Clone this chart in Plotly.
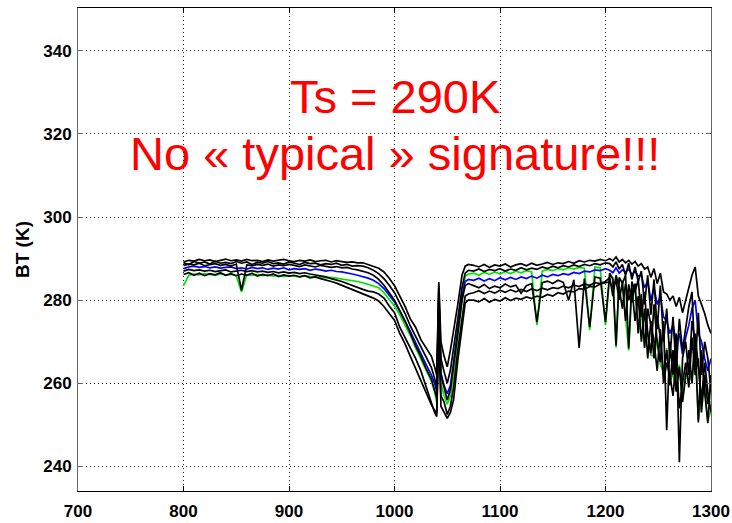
import numpy as np
import plotly.graph_objects as go

# wavenumber grid (cm-1)
wn = np.concatenate([
    np.arange(800, 966, 5),
    np.array([970, 975, 980, 985, 990, 995, 1000, 1005, 1010, 1015, 1020, 1025, 1030,
              1035, 1038, 1040, 1042, 1044, 1047, 1050, 1053, 1056, 1060, 1064, 1067, 1070]),
    np.arange(1075, 1201, 5),
    np.arange(1204, 1301, 3),
])

bt_black_hi = [
    289.2, 289.6, 289.4, 289.8, 289.5, 289.7, 289.3, 289.6, 289.9, 289.5, 289.7, 289.4, 289.8, 289.5, 289.6, 289.3, 289.7,
    289.4, 289.6, 289.8, 289.5, 289.3, 289.6, 289.4, 289.7, 289.3, 289.5, 289.6, 289.2, 289.5, 289.3, 289.1, 289.2, 289.0,
    289.0, 288.6, 288.2, 287.7, 286.8, 285.3, 283.5, 281.0, 278.5, 275.5, 273.5, 270.5, 268.5,
    266.5, 264.0, 262.0, 284.4, 270.0, 266.5, 264.0, 268.0, 272.5, 279.0, 286.0, 288.2, 288.6,
    288.4, 288.0, 288.6, 287.9, 288.5, 288.2, 288.7, 288.0, 288.5, 288.8, 288.3, 288.9, 288.4,
    288.7, 289.1, 288.6, 289.0, 288.8, 289.3, 288.9, 289.5, 289.2, 289.6, 289.4, 289.8, 289.5,
    290.0, 289.5, 290.4, 289.2, 289.8, 289.0, 289.6, 288.7, 289.3, 288.2, 288.8, 287.5, 288.0,
    285.5, 287.6, 284.0, 286.5, 282.0, 281.5, 280.0, 281.0, 278.5, 280.7, 277.0, 280.0, 283.0,
    286.0, 288.0, 281.0, 279.0, 276.8, 274.0, 272.0,
]

bt_black_a = [
    289.0, 288.6, 289.3, 288.9, 289.2, 288.7, 289.4, 288.9, 289.1, 288.8, 289.3, 288.9, 289.2, 288.6, 289.1, 288.9, 289.3,
    288.8, 289.0, 288.7, 289.2, 288.9, 288.6, 289.1, 288.8, 288.9, 288.5, 288.8, 288.6, 288.9, 288.4, 288.6, 288.2, 288.3,
    288.2, 287.8, 287.2, 286.4, 285.2, 283.6, 281.8, 279.3, 276.8, 273.8, 271.2, 268.8, 266.0,
    263.8, 261.2, 259.0, 283.5, 266.0, 262.8, 260.0, 263.2, 268.0, 275.5, 283.0, 286.5, 287.2,
    287.0, 287.5, 286.9, 287.4, 287.1, 287.6, 287.0, 287.5, 287.2, 287.8, 287.3, 287.7, 287.4,
    288.0, 287.6, 288.2, 287.8, 288.3, 288.0, 288.5, 288.1, 288.6, 288.3, 288.8, 288.5, 289.0,
    288.8, 288.0, 289.2, 287.5, 288.6, 286.0, 288.9, 285.0, 288.0, 284.5, 287.0, 279.0, 286.0,
    276.5, 285.0, 273.0, 283.5, 270.0, 278.0, 266.0, 276.0, 263.0, 275.5, 268.0, 273.0, 278.5,
    282.0, 264.0, 277.0, 262.0, 270.0, 266.0, 258.0,
]

bt_black_mid = [
    288.4, 288.7, 288.5, 288.9, 288.3, 288.6, 288.8, 288.4, 288.6, 288.2, 288.7, 282.4, 288.5, 288.3, 288.6, 288.4, 288.7,
    288.2, 288.5, 288.3, 288.6, 288.4, 288.1, 288.5, 288.3, 288.0, 288.4, 288.2, 287.9, 288.1, 287.8, 287.9, 287.5, 287.3,
    287.0, 286.6, 286.0, 285.0, 283.6, 281.8, 280.0, 277.5, 275.0, 272.0, 269.0, 266.5, 263.5,
    261.0, 258.5, 256.5, 282.0, 262.0, 259.0, 256.0, 258.5, 264.0, 272.0, 280.0, 283.5, 284.0,
    283.5, 283.0, 283.8, 282.8, 283.4, 283.0, 283.9, 283.2, 283.6, 281.7, 283.5, 284.0, 274.7,
    284.2, 284.6, 284.0, 284.8, 284.3, 280.0, 284.9, 268.5, 285.2, 273.5, 285.6, 285.3, 274.7,
    286.5, 285.0, 269.1, 285.5, 284.0, 286.0, 268.4, 284.5, 282.0, 285.0, 276.0, 282.0, 272.0,
    267.2, 279.0, 270.0, 265.1, 275.0, 248.7, 270.0, 262.0, 272.0, 241.0, 266.0, 270.0, 262.0,
    275.0, 270.0, 250.6, 268.0, 258.0, 250.4, 262.0,
]

bt_black_b = [
    286.2, 286.6, 286.0, 286.5, 285.9, 286.4, 286.1, 286.6, 286.0, 286.4, 285.9, 286.3, 286.0, 286.5, 285.8, 286.2, 285.9,
    286.3, 285.7, 286.1, 285.8, 286.0, 285.6, 285.9, 285.4, 285.6, 285.2, 284.9, 284.5, 284.1, 283.6, 283.1, 282.6, 282.0,
    281.6, 281.0, 280.5, 279.8, 278.5, 276.8, 275.2, 272.0, 269.5, 266.5, 263.5, 260.8, 257.5,
    254.8, 253.5, 252.8, 270.0, 257.0, 255.5, 252.5, 254.5, 259.0, 268.0, 276.0, 281.0, 281.5,
    281.8, 282.3, 281.6, 282.2, 281.7, 282.4, 281.9, 282.5, 282.0, 282.6, 282.1, 282.7, 282.3,
    282.9, 282.5, 283.0, 282.8, 283.4, 283.0, 283.6, 283.3, 283.9, 283.6, 284.2, 284.0, 284.5,
    285.5, 281.0, 286.0, 283.0, 278.0, 284.0, 280.0, 283.0, 275.0, 281.0, 270.0, 278.0, 266.0,
    275.0, 270.0, 263.0, 273.0, 260.0, 265.0, 262.0, 257.0, 266.0, 254.0, 260.0, 265.0, 259.0,
    271.0, 262.0, 266.0, 253.0, 262.0, 255.0, 260.0,
]

bt_black_lo = [
    287.0, 287.4, 287.1, 287.3, 287.0, 287.2, 286.9, 287.1, 287.3, 286.8, 287.0, 287.2, 286.9, 287.1, 286.8, 287.0, 286.7,
    286.9, 286.6, 286.8, 286.5, 286.7, 286.4, 286.6, 286.3, 286.1, 285.8, 285.6, 285.2, 284.9, 284.5, 284.0, 283.5, 283.0,
    282.6, 282.2, 282.0, 281.5, 280.5, 278.6, 277.0, 273.5, 271.0, 268.7, 266.0, 263.0, 259.0,
    255.5, 253.0, 252.0, 276.0, 254.5, 253.0, 251.6, 253.0, 256.0, 265.5, 273.0, 279.3, 280.0,
    280.0, 279.6, 280.4, 279.5, 280.2, 279.8, 280.6, 279.9, 280.5, 280.2, 280.8, 280.4, 281.0,
    280.7, 281.4, 281.0, 281.8, 281.5, 282.2, 282.0, 282.8, 282.6, 283.3, 283.2, 283.9, 284.2,
    284.4, 283.0, 284.8, 280.0, 284.2, 275.0, 283.8, 279.5, 284.0, 272.0, 281.5, 268.5, 278.0,
    274.0, 266.0, 276.0, 271.0, 262.0, 268.0, 259.5, 268.0, 258.0, 264.0, 255.5, 262.0, 268.0,
    260.0, 272.0, 264.0, 256.0, 265.0, 258.0, 253.0,
]

bt_blue = [
    287.6, 288.0, 288.2, 287.9, 288.1, 287.8, 288.0, 287.7, 287.9, 288.0, 287.6, 287.8, 287.5, 287.9, 287.6, 287.8, 287.4,
    287.7, 287.5, 287.8, 287.3, 287.6, 287.4, 287.6, 287.2, 287.5, 287.3, 287.0, 287.2, 286.9, 286.8, 286.6, 286.3, 286.0,
    285.7, 285.3, 284.8, 284.0, 282.8, 281.3, 279.6, 277.4, 275.0, 272.5, 269.8, 267.0, 264.5,
    262.0, 260.0, 258.0, 280.0, 262.5, 259.5, 257.5, 259.5, 265.0, 273.0, 281.0, 284.5, 285.0,
    284.8, 285.3, 284.6, 285.2, 284.7, 285.4, 284.9, 285.5, 285.0, 285.6, 285.2, 285.8, 285.3,
    286.0, 285.6, 286.2, 285.9, 286.4, 286.1, 286.7, 286.4, 287.0, 286.8, 287.3, 287.1, 287.6,
    287.2, 286.6, 287.8, 286.5, 287.3, 286.8, 287.5, 286.2, 286.9, 285.8, 286.0, 283.0, 284.5,
    280.0, 283.0, 279.0, 281.0, 276.0, 275.0, 272.0, 274.0, 270.0, 272.0, 267.0, 271.0, 274.0,
    278.0, 280.0, 272.0, 270.0, 266.0, 263.0, 266.0,
]

bt_green = [
    283.5, 286.0, 286.3, 286.1, 286.4, 286.2, 286.0, 286.3, 286.1, 286.2, 285.9, 282.0, 286.1, 286.0, 286.2, 285.9, 286.1,
    285.8, 286.0, 285.7, 285.9, 285.8, 285.6, 285.9, 285.7, 285.5, 285.6, 285.4, 285.5, 285.3, 285.2, 285.0, 284.8, 284.5,
    284.2, 283.8, 283.4, 283.0, 281.8, 280.3, 278.6, 276.5, 274.0, 271.5, 268.5, 265.8, 263.0,
    260.5, 258.0, 255.5, 279.0, 260.0, 257.0, 255.0, 257.0, 262.0, 271.0, 279.5, 285.8, 286.3,
    286.5, 286.0, 286.7, 286.2, 286.8, 286.3, 286.9, 286.4, 287.0, 286.6, 287.1, 286.8, 274.0,
    287.0, 287.4, 287.1, 287.6, 287.3, 287.8, 287.5, 287.9, 287.7, 272.8, 288.0, 287.8, 274.0,
    286.0, 285.5, 268.6, 285.0, 284.6, 276.0, 267.9, 283.0, 283.5, 272.5, 277.0, 269.0, 272.5,
    266.8, 266.5, 270.5, 264.6, 262.5, 268.5, 260.0, 262.5, 258.5, 264.5, 256.0, 262.5, 262.5,
    260.5, 270.5, 251.2, 256.5, 258.5, 251.0, 253.5,
]

x_ticks = [700, 800, 900, 1000, 1100, 1200, 1300]
y_ticks = [240, 260, 280, 300, 320, 340]
title_line1 = "Ts = 290K"
title_line2 = "No « typical » signature!!!"

fig = go.Figure()
series = [
    (bt_green, "#00e600"), (bt_blue, "#0000ff"),
    (bt_black_lo, "black"), (bt_black_b, "black"), (bt_black_mid, "black"),
    (bt_black_a, "black"), (bt_black_hi, "black"),
]
for vals, col in series:
    fig.add_trace(go.Scatter(x=wn, y=vals, mode="lines",
                             line=dict(color=col, width=1.7), showlegend=False))

fig.add_annotation(x=1000, y=329.0, xref="x", yref="y", text=title_line1, showarrow=False,
                   font=dict(family="Liberation Sans, Arial", size=47, color="#ff0000"))
fig.add_annotation(x=1000, y=315.2, xref="x", yref="y", text=title_line2, showarrow=False,
                   font=dict(family="Liberation Sans, Arial", size=47, color="#ff0000"))

tickfont = dict(family="Liberation Sans, Arial", size=17, color="black", weight="bold")
fig.update_xaxes(range=[700, 1300], tickvals=x_ticks, ticktext=[str(v) for v in x_ticks],
                 showgrid=True, gridcolor="#222222", griddash="1px,3px", gridwidth=1,
                 showline=True, linecolor="black", linewidth=1, mirror="ticks",
                 ticks="inside", ticklen=5, tickcolor="black", zeroline=False,
                 tickfont=tickfont, ticklabelstandoff=5, automargin=False)
fig.update_yaxes(range=[234.1, 350.3], tickvals=y_ticks, ticktext=[str(v) for v in y_ticks],
                 showgrid=True, gridcolor="#222222", griddash="1px,3px", gridwidth=1,
                 showline=True, linecolor="#666666", linewidth=1, mirror="ticks",
                 ticks="inside", ticklen=5, tickcolor="#666666", zeroline=False,
                 tickfont=tickfont, ticklabelstandoff=2, automargin=False,
                 title=dict(text="BT (K)", font=dict(family="Liberation Sans, Arial", size=19,
                                                     color="black", weight="bold"), standoff=8))

fig.update_layout(width=732, height=523, margin=dict(l=78, r=21, t=8, b=32),
                  paper_bgcolor="white", plot_bgcolor="white")

fig.write_html("out.html")
